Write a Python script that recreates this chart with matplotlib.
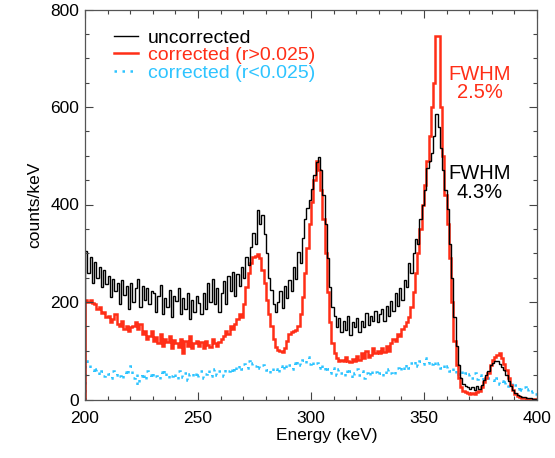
import numpy as np
import matplotlib
matplotlib.use("Agg")
import matplotlib.pyplot as plt

plt.rcParams['font.family'] = ['Liberation Sans', 'DejaVu Sans']

# Energy bins (keV), 1 keV wide
bin_edges = np.arange(200, 401, 1)

uncorrected = [
    305, 260, 292, 240, 282, 250, 272, 230, 265, 236,
    254, 210, 248, 222, 240, 196, 245, 214, 232, 186,
    238, 200, 228, 248, 190, 232, 205, 228, 195, 222,
    218, 180, 212, 234, 175, 208, 190, 224, 170, 212,
    202, 228, 175, 208, 186, 218, 165, 204, 180, 212,
    198, 176, 218, 186, 238, 200, 248, 196, 228, 180,
    218, 244, 196, 254, 222, 262, 212, 258, 232, 272,
    250, 292, 275, 312, 342, 320, 388, 360, 378, 340,
    300, 250, 225, 195, 180, 200, 222, 188, 232, 208,
    246, 222, 272, 248, 302, 280, 332, 370, 392, 410,
    432, 460, 487, 497, 470, 420, 360, 290, 230, 190,
    172, 148, 168, 138, 162, 142, 172, 132, 158, 148,
    168, 138, 162, 148, 178, 152, 172, 162, 182, 158,
    176, 186, 162, 192, 172, 202, 182, 218, 192, 228,
    205, 245, 230, 280, 260, 300, 330, 320, 370, 400,
    430, 475, 490, 505, 540, 585, 560, 515, 470, 430,
    390, 320, 250, 170, 110, 70, 45, 32, 28, 25,
    22, 25, 20, 28, 22, 30, 40, 50, 58, 70,
    75, 80, 78, 72, 66, 60, 50, 38, 28, 20,
    14, 10, 8, 6, 5, 4, 3, 3, 2, 2,
]

corrected_hi = [
    205, 200, 205, 198, 195, 185, 190, 178, 180, 170,
    172, 160, 165, 175, 155, 150, 162, 145, 150, 140,
    148, 150, 160, 145, 155, 135, 140, 125, 130, 140,
    120, 128, 115, 135, 110, 125, 118, 130, 105, 122,
    115, 108, 125, 95, 120, 110, 130, 105, 115, 120,
    110, 118, 105, 120, 112, 108, 125, 115, 110, 118,
    125, 130, 140, 135, 150, 145, 155, 165, 175, 170,
    195, 230, 260, 280, 292, 295, 298, 290, 265, 240,
    205, 175, 150, 125, 108, 102, 100, 98, 105, 120,
    135, 138, 140, 142, 150, 175, 210, 260, 310, 360,
    405, 450, 490, 470, 430, 370, 300, 220, 160, 115,
    95, 85, 80, 82, 78, 88, 80, 76, 84, 80,
    90, 82, 95, 85, 100, 88, 92, 105, 95, 100,
    95, 105, 98, 110, 100, 115, 125, 120, 135, 130,
    145, 150, 160, 170, 190, 220, 260, 300, 350, 400,
    440, 490, 540, 600, 650, 745, 745, 600, 500, 420,
    360, 290, 200, 120, 70, 45, 25, 18, 15, 13,
    12, 14, 12, 15, 18, 25, 35, 45, 55, 70,
    82, 88, 92, 95, 85, 72, 60, 45, 30, 20,
    12, 8, 6, 4, 3, 2, 2, 2, 1, 1,
]

corrected_lo = [
    80, 72, 65, 60, 55, 62, 50, 58, 48, 55,
    52, 45, 58, 50, 55, 48, 42, 56, 50, 62,
    68, 45, 52, 30, 48, 55, 40, 58, 50, 45,
    55, 48, 42, 56, 50, 60, 45, 52, 48, 55,
    42, 58, 50, 46, 55, 40, 52, 48, 56, 45,
    50, 58, 45, 52, 60, 48, 55, 62, 50, 58,
    55, 48, 62, 58, 65, 55, 68, 60, 70, 62,
    72, 65, 78, 70, 75, 68, 72, 65, 70, 62,
    60, 55, 65, 58, 62, 55, 68, 60, 72, 65,
    70, 62, 75, 68, 78, 70, 82, 75, 88, 72,
    80, 70, 75, 65, 72, 60, 68, 62, 55, 65,
    58, 50, 62, 55, 48, 60, 52, 58, 45, 55,
    62, 50, 58, 45, 55, 48, 60, 52, 56, 50,
    55, 48, 58, 52, 62, 55, 50, 60, 65, 58,
    68, 60, 72, 65, 75, 70, 78, 68, 80, 72,
    85, 75, 80, 72, 78, 68, 75, 65, 70, 62,
    68, 58, 65, 55, 60, 52, 58, 50, 55, 48,
    52, 45, 55, 42, 50, 40, 48, 38, 45, 42,
    40, 35, 45, 32, 38, 30, 36, 28, 34, 25,
    30, 22, 28, 20, 25, 18, 22, 15, 18, 12,
]

labels = ["uncorrected", "corrected (r>0.025)", "corrected (r<0.025)"]
fwhm_labels = ["FWHM\n2.5%", "FWHM\n4.3%"]
xticks = [200, 250, 300, 350, 400]
yticks = [0, 200, 400, 600, 800]

RED = '#ff2e17'
BLUE = '#2ec4ff'

fig = plt.figure(figsize=(5.55, 4.58), dpi=100)
ax = fig.add_axes([85/555, 1-399.5/458, 452/555, 390/458])

h3 = ax.stairs(corrected_lo, bin_edges, color=BLUE, lw=1.8, linestyle=(0, (1, 2.2)), label=labels[2])
h2 = ax.stairs(corrected_hi, bin_edges, color=RED, lw=1.8, label=labels[1])
h1 = ax.stairs(uncorrected, bin_edges, color='black', lw=1.0, label=labels[0])

ax.set_xlim(200, 400)
ax.set_ylim(0, 800)
ax.set_xticks(xticks)
ax.set_yticks(yticks)
ax.set_xticks(np.arange(200, 401, 10), minor=True)
ax.set_yticks(np.arange(0, 801, 50), minor=True)
ax.tick_params(which='both', direction='in', top=True, right=True, color='#444444')
ax.tick_params(which='major', length=6, width=0.8, labelsize=12.5)
ax.tick_params(which='minor', length=3, width=0.8)
ax.tick_params(axis='x', pad=8)
ax.tick_params(axis='y', pad=4)
for s in ax.spines.values():
    s.set_color('#555555')
    s.set_linewidth(0.9)

ax.set_xlabel("Energy (keV)", fontsize=12.5, x=0.535, labelpad=2)
ax.set_ylabel("counts/keV", fontsize=12.5, labelpad=6)

leg = ax.legend(handles=[h1, h2, h3], loc='upper left', frameon=False,
                fontsize=14, handlelength=1.2, handletextpad=0.5,
                labelspacing=0.0, borderaxespad=0.0,
                bbox_to_anchor=(0.048, 0.97))
for txt, col in zip(leg.get_texts(), ['black', RED, BLUE]):
    txt.set_color(col)

ax.text(374.8, 648, fwhm_labels[0], color=RED, fontsize=14.5, ha='center',
        va='center', multialignment='center', linespacing=0.95)
ax.text(374.8, 444, fwhm_labels[1], color='black', fontsize=14.5, ha='center',
        va='center', multialignment='center', linespacing=0.95)

fig.savefig("out.png", dpi=100)
